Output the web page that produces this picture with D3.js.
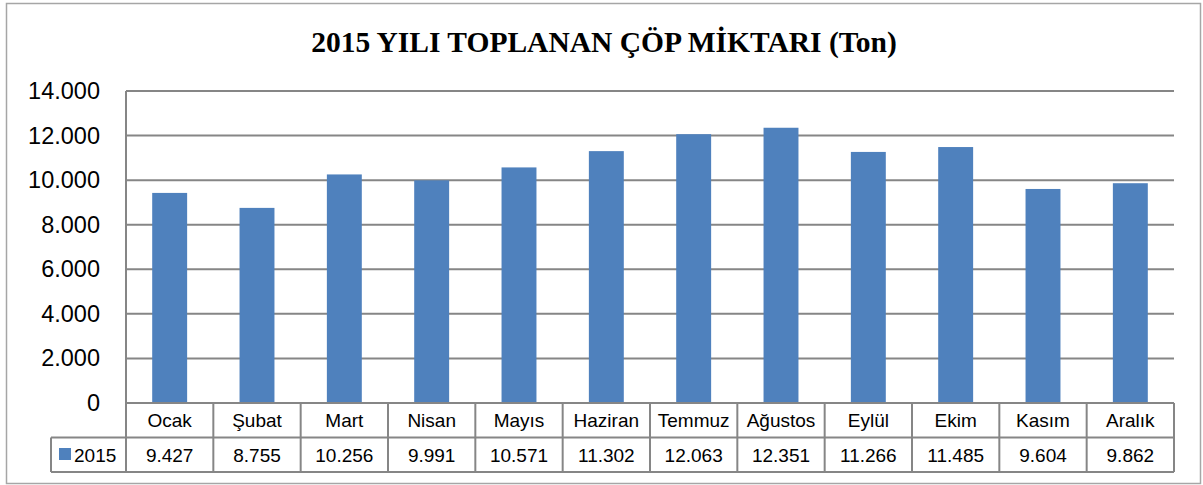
<!DOCTYPE html>
<html>
<head>
<meta charset="utf-8">
<script src="https://d3js.org/d3.v7.min.js"></script>
<style>
  body { margin: 0; background: #fff; }
  .title { font-family: "Liberation Serif", serif; font-weight: bold; font-size: 29.5px; fill: #000; }
  .tick text { font-family: "Liberation Sans", sans-serif; font-size: 23.5px; fill: #000; }
  .cell { font-family: "Liberation Sans", sans-serif; font-size: 19px; fill: #000; }
  .grid line { stroke: #868686; stroke-width: 2; }
  .bar { fill: #4f81bd; }
</style>
</head>
<body>
<script>
  var months = ["Ocak", "Şubat", "Mart", "Nisan", "Mayıs", "Haziran", "Temmuz", "Ağustos", "Eylül", "Ekim", "Kasım", "Aralık"];
  var values2015 = [9427, 8755, 10256, 9991, 10571, 11302, 12063, 12351, 11266, 11485, 9604, 9862];
  var seriesName = "2015";
  var yTicks = [0, 2000, 4000, 6000, 8000, 10000, 12000, 14000];
  var titleText = "2015 YILI TOPLANAN ÇÖP MİKTARI (Ton)";

  var W = 1203, H = 485;
  var plot = { left: 126, right: 1174, top: 91, bottom: 403 };
  var rowH = 34.5;
  var legendLeft = 51;

  var tr = d3.formatLocale({ decimal: ",", thousands: ".", grouping: [3], currency: ["", " TL"] });
  var fmt = tr.format(",d");

  var svg = d3.select("body").append("svg")
      .attr("width", W)
      .attr("height", H);

  // outer frame
  svg.append("rect")
      .attr("x", 6.5).attr("y", 3.5)
      .attr("width", 1194).attr("height", 480)
      .attr("fill", "#fff")
      .attr("stroke", "#a6a6a6")
      .attr("stroke-width", 1.5);

  svg.append("text")
      .attr("class", "title")
      .attr("x", 604).attr("y", 52)
      .attr("text-anchor", "middle")
      .text(titleText);

  var x = d3.scaleBand()
      .domain(months)
      .range([plot.left, plot.right])
      .paddingInner(0).paddingOuter(0);

  var y = d3.scaleLinear()
      .domain([0, 14000])
      .range([plot.bottom, plot.top]);

  // gridlines
  svg.append("g")
      .attr("class", "grid")
    .selectAll("line")
      .data(yTicks)
    .enter().append("line")
      .attr("x1", plot.left).attr("x2", plot.right)
      .attr("y1", function(d) { return y(d); })
      .attr("y2", function(d) { return y(d); });

  // y axis labels
  var yAxis = d3.axisLeft(y).tickValues(yTicks).tickFormat(fmt).tickSize(0).tickPadding(26);
  var ya = svg.append("g")
      .attr("transform", "translate(" + plot.left + ",0)")
      .call(yAxis);
  ya.select(".domain").remove();

  // bars
  var bw = x.bandwidth() * 0.4;
  svg.selectAll(".bar")
      .data(values2015)
    .enter().append("rect")
      .attr("class", "bar")
      .attr("x", function(d, i) { return x(months[i]) + (x.bandwidth() - bw) / 2; })
      .attr("width", bw)
      .attr("y", function(d) { return y(d); })
      .attr("height", function(d) { return y(0) - y(d); });

  // data table
  var tbl = svg.append("g").attr("stroke", "#868686").attr("stroke-width", 2);
  var r1 = plot.bottom, r2 = plot.bottom + rowH, r3 = plot.bottom + 2 * rowH;
  tbl.append("line").attr("x1", plot.left).attr("x2", plot.left).attr("y1", plot.top).attr("y2", r3);
  tbl.append("line").attr("x1", plot.left).attr("x2", plot.right).attr("y1", r1).attr("y2", r1);
  tbl.append("line").attr("x1", legendLeft).attr("x2", plot.right).attr("y1", r2).attr("y2", r2);
  tbl.append("line").attr("x1", legendLeft).attr("x2", plot.right).attr("y1", r3).attr("y2", r3);
  tbl.append("line").attr("x1", legendLeft).attr("x2", legendLeft).attr("y1", r2).attr("y2", r3);
  tbl.selectAll(".vsep")
      .data(months)
    .enter().append("line")
      .attr("x1", function(d) { return x(d) + x.bandwidth(); })
      .attr("x2", function(d) { return x(d) + x.bandwidth(); })
      .attr("y1", r1).attr("y2", r3);

  svg.selectAll(".cat")
      .data(months)
    .enter().append("text")
      .attr("class", "cell")
      .attr("x", function(d) { return x(d) + x.bandwidth() / 2; })
      .attr("y", r1 + rowH / 2 + 7)
      .attr("text-anchor", "middle")
      .text(function(d) { return d; });

  svg.selectAll(".val")
      .data(values2015)
    .enter().append("text")
      .attr("class", "cell")
      .attr("x", function(d, i) { return x(months[i]) + x.bandwidth() / 2; })
      .attr("y", r2 + rowH / 2 + 7)
      .attr("text-anchor", "middle")
      .text(function(d) { return fmt(d); });

  // legend key
  svg.append("rect")
      .attr("class", "bar")
      .attr("x", 59).attr("y", 448)
      .attr("width", 12).attr("height", 12);
  svg.append("text")
      .attr("class", "cell")
      .attr("x", 74).attr("y", r2 + rowH / 2 + 7)
      .text(seriesName);
</script>
</body>
</html>
